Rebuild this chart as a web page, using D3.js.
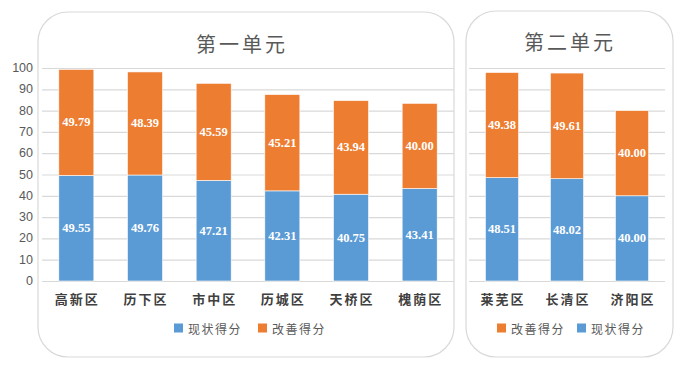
<!DOCTYPE html>
<html><head><meta charset="utf-8">
<script src="https://cdn.jsdelivr.net/npm/d3@7"></script>
<style>body{margin:0;background:#fff}</style>
</head><body>
<svg id="c" width="700" height="375"></svg>
<script>
const unit1Categories = ["高新区","历下区","市中区","历城区","天桥区","槐荫区"];
const unit1Current = [49.55,49.76,47.21,42.31,40.75,43.41];
const unit1Improve = [49.79,48.39,45.59,45.21,43.94,40.00];
const unit2Categories = ["莱芜区","长清区","济阳区"];
const unit2Current = [48.51,48.02,40.00];
const unit2Improve = [49.38,49.61,40.00];
const yTicks = [0,10,20,30,40,50,60,70,80,90,100];
const titles = ["第一单元","第二单元"];
const seriesNames = ["现状得分","改善得分"];

const BLUE="#5B9BD5", ORANGE="#ED7D31", GRID="#D9D9D9", TXT="#595959";
const svg = d3.select("#c");
const y = d3.scaleLinear().domain([0,100]).range([281,68]);

function panel(cfg){
  const g = svg.append("g");
  g.append("rect").attr("x",cfg.px).attr("y",cfg.py).attr("width",cfg.pw).attr("height",cfg.ph)
    .attr("rx",30).attr("ry",30).attr("fill","#fff").attr("stroke",GRID).attr("stroke-width",1.2);
  g.append("text").attr("x",cfg.titleX).attr("y",cfg.titleY).attr("text-anchor","middle")
    .attr("font-family","'Noto Sans CJK SC'").attr("font-size",20).attr("fill",TXT)
    .attr("letter-spacing",3).text(cfg.title);
  // grid
  g.selectAll(".grid").data(yTicks).join("line")
    .attr("x1",cfg.gx0).attr("x2",cfg.gx1).attr("y1",d=>y(d)+0.5).attr("y2",d=>y(d)+0.5)
    .attr("stroke",GRID).attr("stroke-width",1.2);
  const x = d3.scaleBand().domain(cfg.cats).range(cfg.xr).paddingInner(0.49).paddingOuter(0.245);
  const data = cfg.cats.map((c,i)=>({c,a:cfg.cur[i],b:cfg.imp[i]}));
  // current (bottom)
  g.selectAll(".ba").data(data).join("rect")
    .attr("x",d=>x(d.c)).attr("width",x.bandwidth())
    .attr("y",d=>y(d.a)).attr("height",d=>y(0)-y(d.a)).attr("fill",BLUE)
    .attr("stroke","#fff").attr("stroke-width",0.6);
  g.selectAll(".bb").data(data).join("rect")
    .attr("x",d=>x(d.c)).attr("width",x.bandwidth())
    .attr("y",d=>y(d.a+d.b)).attr("height",d=>y(d.a)-y(d.a+d.b)).attr("fill",ORANGE)
    .attr("stroke","#fff").attr("stroke-width",0.6);
  const lab = (sel)=>sel.attr("text-anchor","middle").attr("dominant-baseline","central")
    .attr("font-family","'Liberation Serif'").attr("font-weight","bold").attr("font-size",12.5).attr("fill","#fff");
  g.selectAll(".la").data(data).join("text").call(lab)
    .attr("x",d=>x(d.c)+x.bandwidth()/2).attr("y",d=>y(d.a/2)).text(d=>d.a.toFixed(2));
  g.selectAll(".lb").data(data).join("text").call(lab)
    .attr("x",d=>x(d.c)+x.bandwidth()/2).attr("y",d=>y(d.a+d.b/2)).text(d=>d.b.toFixed(2));
  // x labels
  g.selectAll(".xl").data(cfg.cats).join("text")
    .attr("x",d=>x(d)+x.bandwidth()/2+1).attr("y",298).attr("text-anchor","middle").attr("dominant-baseline","central")
    .attr("font-family","'Noto Sans CJK SC'").attr("font-weight","bold").attr("font-size",13).attr("fill","#404040")
    .attr("letter-spacing",2).text(d=>d);
  // legend
  const lg = g.append("g");
  cfg.legend.forEach(l=>{
    lg.append("rect").attr("x",l.x).attr("y",323.5).attr("width",9).attr("height",9).attr("fill",l.color);
    lg.append("text").attr("x",l.x+14).attr("y",328).attr("dominant-baseline","central")
      .attr("font-family","'Noto Sans CJK SC'").attr("font-size",12).attr("fill",TXT)
      .attr("letter-spacing",1.5).text(l.name);
  });
}

panel({px:38,py:12,pw:416,ph:345,title:titles[0],titleX:242,titleY:52,gx0:42,gx1:454,
  xr:[42,454],cats:unit1Categories,cur:unit1Current,imp:unit1Improve,
  legend:[{x:174,color:BLUE,name:seriesNames[0]},{x:258,color:ORANGE,name:seriesNames[1]}]});
panel({px:466,py:11,pw:207,ph:346,title:titles[1],titleX:570,titleY:50,gx0:469,gx1:665,
  xr:[469.5,664.5],cats:unit2Categories,cur:unit2Current,imp:unit2Improve,
  legend:[{x:497,color:ORANGE,name:seriesNames[1]},{x:577,color:BLUE,name:seriesNames[0]}]});

// y axis labels
svg.append("g").selectAll("text").data(yTicks).join("text")
  .attr("x",33).attr("y",d=>y(d)).attr("text-anchor","end").attr("dominant-baseline","central")
  .attr("font-family","'Liberation Sans'").attr("font-size",12.5).attr("fill",TXT).text(d=>d);
</script>
</body></html>
